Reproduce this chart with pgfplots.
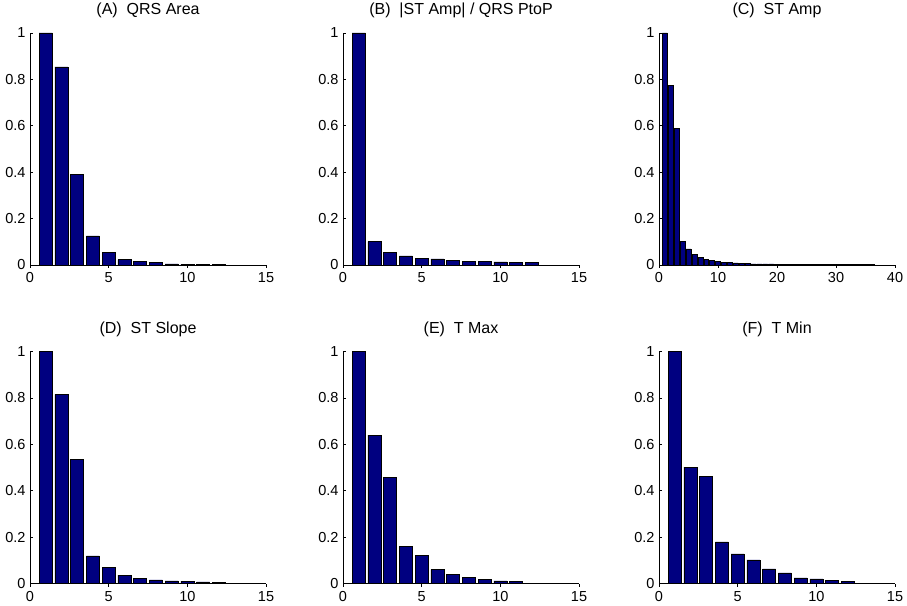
\documentclass[border=0pt]{standalone}
\usepackage{fontspec}
\setmainfont{Liberation Sans}
\usepackage{pgfplots}
\pgfplotsset{compat=1.18}
\definecolor{barnavy}{RGB}{0,0,128}

\pgfplotsset{
  panel/.style={
    scale only axis,
    width=236pt, height=232pt,
    anchor=south west,
    ymin=0, ymax=1,
    ytick={0,0.2,0.4,0.6,0.8,1},
    axis x line*=bottom, axis y line*=left,
    axis line style={black, line width=0.5pt},
    tick align=inside,
    major tick length=3pt,
    tick style={black, line width=0.5pt},
    /pgf/number format/assume math mode=true,
    tick label style={font=\fontsize{14.5}{16}\selectfont},
    xticklabel style={yshift=-1pt},
    yticklabel style={xshift=-1pt},
    title style={at={(0.5,1)}, anchor=base, yshift=12pt, font=\fontsize{16}{18}\selectfont},
    ybar, bar width=0.83,
  },
  bars/.style={fill=barnavy, draw=black, line width=0.5pt},
}

\begin{document}
\begin{tikzpicture}
\path (0,0) rectangle (907pt,601pt);

% top row
\begin{axis}[panel, at={(30pt,340.3pt)}, xmin=0, xmax=15, xtick={0,5,10,15},
  title={(A)\ \ QRS Area}]
\addplot[bars] coordinates {(1,1) (2,0.854) (3,0.390) (4,0.125) (5,0.053) (6,0.023)
  (7,0.015) (8,0.010) (9,0.004) (10,0.003) (11,0.002) (12,0.002)};
\end{axis}

\begin{axis}[panel, at={(343pt,340.3pt)}, xmin=0, xmax=15, xtick={0,5,10,15},
  title={(B)\ \ |ST Amp| / QRS PtoP}]
\addplot[bars] coordinates {(1,1) (2,0.100) (3,0.053) (4,0.039) (5,0.029) (6,0.026)
  (7,0.020) (8,0.016) (9,0.014) (10,0.013) (11,0.012) (12,0.010)};
\end{axis}

\begin{axis}[panel, at={(659pt,340.3pt)}, xmin=0, xmax=40, xtick={0,10,20,30,40},
  title={(C)\ \ ST Amp}]
\addplot[bars] coordinates {(1,1) (2,0.774) (3,0.589) (4,0.100) (5,0.069) (6,0.046)
  (7,0.033) (8,0.024) (9,0.020) (10,0.016) (11,0.011) (12,0.010) (13,0.009)
  (14,0.007) (15,0.006) (16,0.005) (17,0.005) (18,0.004) (19,0.004) (20,0.003)
  (21,0.003) (22,0.003) (23,0.003) (24,0.002) (25,0.002) (26,0.002) (27,0.002)
  (28,0.002) (29,0.002) (30,0.002) (31,0.001) (32,0.001) (33,0.001) (34,0.001)
  (35,0.001) (36,0.001)};
\end{axis}

% bottom row
\begin{axis}[panel, at={(30pt,21.7pt)}, xmin=0, xmax=15, xtick={0,5,10,15},
  title={(D)\ \ ST Slope}]
\addplot[bars] coordinates {(1,1) (2,0.815) (3,0.534) (4,0.119) (5,0.069) (6,0.036)
  (7,0.023) (8,0.016) (9,0.011) (10,0.010) (11,0.007) (12,0.006)};
\end{axis}

\begin{axis}[panel, at={(343pt,21.7pt)}, xmin=0, xmax=15, xtick={0,5,10,15},
  title={(E)\ \ T Max}]
\addplot[bars] coordinates {(1,1) (2,0.640) (3,0.458) (4,0.159) (5,0.121) (6,0.060)
  (7,0.039) (8,0.026) (9,0.017) (10,0.011) (11,0.010) (12,0.002)};
\end{axis}

\begin{axis}[panel, at={(659pt,21.7pt)}, xmin=0, xmax=15, xtick={0,5,10,15},
  title={(F)\ \ T Min}]
\addplot[bars] coordinates {(1,1) (2,0.502) (3,0.462) (4,0.179) (5,0.128) (6,0.102)
  (7,0.063) (8,0.046) (9,0.024) (10,0.020) (11,0.013) (12,0.010)};
\end{axis}
\end{tikzpicture}
\end{document}
